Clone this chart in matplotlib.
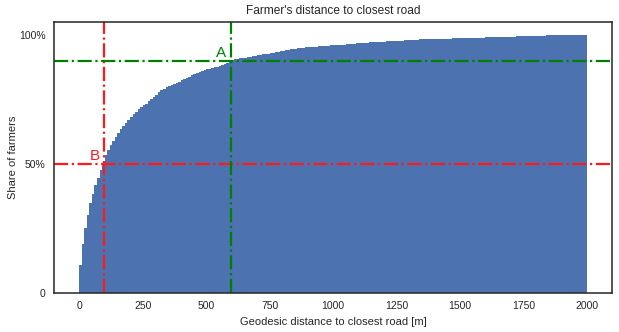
import matplotlib
matplotlib.use('Agg')
import matplotlib.pyplot as plt
import numpy as np

# cumulative share of farmers per 10 m distance bin (0 .. 2000 m)
bin_width = 10
share = [
    0.108, 0.190, 0.251, 0.301, 0.348, 0.384, 0.419, 0.447, 0.477, 0.505,
    0.535, 0.554, 0.574, 0.590, 0.606, 0.619, 0.634, 0.647, 0.660, 0.670,
    0.683, 0.694, 0.703, 0.713, 0.722, 0.730, 0.734, 0.742, 0.751, 0.761,
    0.769, 0.778, 0.785, 0.792, 0.797, 0.800, 0.806, 0.810, 0.815, 0.819,
    0.824, 0.828, 0.833, 0.838, 0.843, 0.847, 0.851, 0.855, 0.859, 0.863,
    0.866, 0.869, 0.872, 0.875, 0.877, 0.880, 0.883, 0.886, 0.890, 0.895,
    0.901, 0.905, 0.907, 0.909, 0.911, 0.912, 0.914, 0.916, 0.917, 0.919,
    0.922, 0.923, 0.924, 0.926, 0.927, 0.929, 0.931, 0.932, 0.934, 0.936,
    0.939, 0.941, 0.943, 0.945, 0.946, 0.947, 0.948, 0.950, 0.950, 0.951,
    0.952, 0.952, 0.953, 0.954, 0.955, 0.956, 0.957, 0.957, 0.958, 0.959,
    0.959, 0.960, 0.961, 0.962, 0.962, 0.963, 0.964, 0.965, 0.966, 0.967,
    0.969, 0.969, 0.970, 0.970, 0.971, 0.972, 0.972, 0.973, 0.973, 0.974,
    0.974, 0.975, 0.975, 0.976, 0.977, 0.977, 0.978, 0.978, 0.979, 0.979,
    0.980, 0.981, 0.981, 0.981, 0.982, 0.982, 0.982, 0.983, 0.983, 0.983,
    0.983, 0.984, 0.984, 0.984, 0.985, 0.985, 0.985, 0.986, 0.986, 0.986,
    0.987, 0.987, 0.987, 0.988, 0.988, 0.988, 0.988, 0.989, 0.989, 0.989,
    0.990, 0.990, 0.990, 0.991, 0.991, 0.991, 0.992, 0.992, 0.992, 0.993,
    0.993, 0.993, 0.994, 0.994, 0.995, 0.995, 0.996, 0.996, 0.996, 0.996,
    0.997, 0.997, 0.997, 0.997, 0.998, 0.998, 0.998, 0.998, 0.999, 0.999,
    0.999, 0.999, 0.999, 0.999, 1.000, 1.000, 1.000, 1.000, 1.000, 1.000,
]
bin_left = np.arange(len(share)) * bin_width

# marker points: A = 90% of farmers, B = 50% of farmers
point_a = (597, 0.9)
point_b = (96, 0.5)

yticks = [0, 0.5, 1.0]
ytick_labels = ['0', '50%', '100%']
xticks = [0, 250, 500, 750, 1000, 1250, 1500, 1750, 2000]

plt.rcParams['font.family'] = ['Liberation Sans', 'DejaVu Sans']
text_color = '#262626'

fig = plt.figure(figsize=(6.19, 3.32), dpi=100)
ax = fig.add_axes([0.087, 0.117, 0.902, 0.817])

ax.bar(bin_left, share, width=bin_width, align='edge', color='#4c72b0', linewidth=0)

ax.axvline(point_b[0], color='#ff1a1a', linestyle='-.', linewidth=1.6)
ax.axhline(point_b[1], color='#ff1a1a', linestyle='-.', linewidth=1.6)
ax.axvline(point_a[0], color='green', linestyle='-.', linewidth=1.6)
ax.axhline(point_a[1], color='green', linestyle='-.', linewidth=1.6)

ax.text(point_a[0] - 57, point_a[1] + 0.015, 'A', color='green', fontsize=11)
ax.text(point_b[0] - 53, point_b[1] + 0.015, 'B', color='#ff1a1a', fontsize=11)

ax.set_xlim(-100, 2100)
ax.set_ylim(0, 1.05)
ax.set_xticks(xticks)
ax.set_yticks(yticks)
ax.set_yticklabels(ytick_labels)
ax.tick_params(length=0, labelsize=7.5, colors=text_color, pad=6)

for spine in ax.spines.values():
    spine.set_color(text_color)
    spine.set_linewidth(1.1)

ax.set_title("Farmer's distance to closest road", fontsize=8.6, color=text_color)
ax.set_xlabel('Geodesic distance to closest road [m]', fontsize=8, color=text_color)
ax.set_ylabel('Share of farmers', fontsize=8, color=text_color, labelpad=0.5)

fig.savefig('out.png', dpi=100)
